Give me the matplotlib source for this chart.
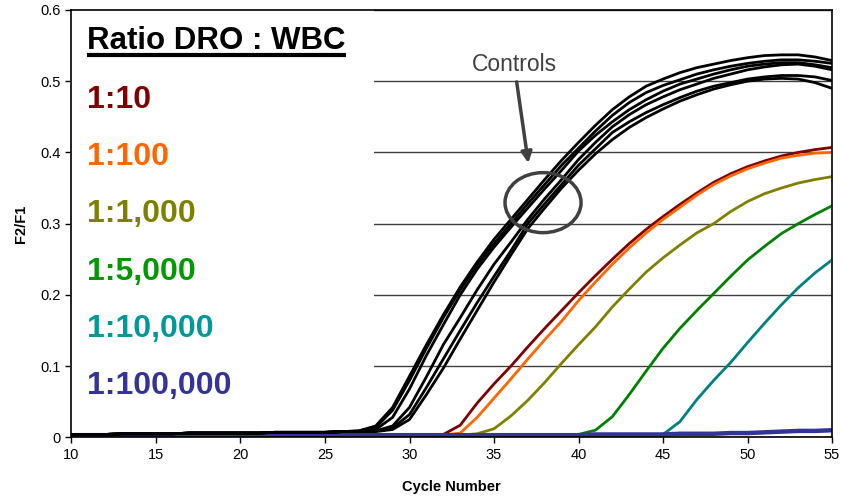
import matplotlib
matplotlib.use("Agg")
import matplotlib.pyplot as plt
import numpy as np
from matplotlib.patches import Ellipse, Rectangle

plt.rcParams["font.family"] = ["Liberation Sans", "DejaVu Sans"]

# F2/F1 por ciclo, ciclos 10..55
ciclos = np.arange(10, 56)

# controles: línea base común (ciclos 10-26) + cola de cada réplica (27-55)
ctrl_base = [0.004, 0.004, 0.004, 0.005, 0.005, 0.005, 0.005, 0.006, 0.006,
             0.006, 0.006, 0.006, 0.007, 0.007, 0.007, 0.007, 0.008]
ctrl_a = [0.009, 0.016, 0.042, 0.086, 0.130, 0.172, 0.211, 0.246, 0.278, 0.306,
          0.334, 0.362, 0.389, 0.414, 0.438, 0.460, 0.478, 0.493, 0.503, 0.512,
          0.519, 0.524, 0.529, 0.533, 0.536, 0.537, 0.537, 0.534, 0.529]
ctrl_b = [0.009, 0.014, 0.038, 0.080, 0.125, 0.168, 0.207, 0.242, 0.272, 0.300,
          0.328, 0.355, 0.382, 0.406, 0.430, 0.452, 0.470, 0.484, 0.494, 0.502,
          0.510, 0.516, 0.521, 0.525, 0.528, 0.530, 0.530, 0.528, 0.525]
ctrl_c = [0.008, 0.011, 0.028, 0.068, 0.115, 0.158, 0.200, 0.236, 0.267, 0.295,
          0.322, 0.349, 0.375, 0.402, 0.424, 0.443, 0.460, 0.474, 0.486, 0.496,
          0.503, 0.510, 0.516, 0.521, 0.524, 0.526, 0.526, 0.523, 0.519]
ctrl_d = [0.008, 0.009, 0.016, 0.042, 0.085, 0.130, 0.168, 0.207, 0.243, 0.274,
          0.306, 0.335, 0.362, 0.390, 0.414, 0.436, 0.453, 0.467, 0.478, 0.488,
          0.496, 0.504, 0.510, 0.516, 0.520, 0.523, 0.524, 0.521, 0.516]
ctrl_e = [0.008, 0.009, 0.013, 0.032, 0.070, 0.110, 0.150, 0.189, 0.226, 0.262,
          0.300, 0.328, 0.355, 0.382, 0.405, 0.428, 0.443, 0.456, 0.467, 0.477,
          0.486, 0.493, 0.498, 0.503, 0.506, 0.508, 0.508, 0.506, 0.501]
ctrl_f = [0.008, 0.008, 0.011, 0.025, 0.060, 0.097, 0.138, 0.178, 0.218, 0.256,
          0.293, 0.322, 0.350, 0.375, 0.398, 0.418, 0.435, 0.449, 0.461, 0.472,
          0.481, 0.489, 0.495, 0.500, 0.503, 0.504, 0.503, 0.498, 0.490]
controles = [ctrl_a, ctrl_b, ctrl_c, ctrl_d, ctrl_e, ctrl_f]

# diluciones DRO:WBC
r_10 = [0.003, 0.003, 0.003, 0.003, 0.003, 0.003, 0.003, 0.003, 0.003, 0.003,
        0.003, 0.003, 0.003, 0.003, 0.003, 0.003, 0.003, 0.003, 0.003, 0.003,
        0.003, 0.003, 0.004, 0.017, 0.048, 0.075, 0.100, 0.127, 0.153, 0.178,
        0.203, 0.227, 0.250, 0.272, 0.292, 0.310, 0.327, 0.343, 0.358, 0.370,
        0.380, 0.388, 0.395, 0.400, 0.404, 0.407]
r_100 = [0.003, 0.003, 0.003, 0.003, 0.003, 0.003, 0.003, 0.003, 0.003, 0.003,
         0.003, 0.003, 0.003, 0.003, 0.003, 0.003, 0.003, 0.003, 0.003, 0.003,
         0.003, 0.003, 0.003, 0.006, 0.028, 0.055, 0.082, 0.110, 0.137, 0.163,
         0.192, 0.218, 0.243, 0.266, 0.287, 0.306, 0.323, 0.340, 0.355, 0.367,
         0.377, 0.385, 0.392, 0.396, 0.399, 0.400]
r_1000 = [0.003, 0.003, 0.003, 0.003, 0.003, 0.003, 0.003, 0.003, 0.003, 0.003,
          0.003, 0.003, 0.003, 0.003, 0.003, 0.003, 0.003, 0.003, 0.003, 0.003,
          0.003, 0.003, 0.003, 0.003, 0.005, 0.012, 0.030, 0.052, 0.077, 0.104,
          0.130, 0.155, 0.183, 0.208, 0.232, 0.252, 0.270, 0.287, 0.300, 0.317,
          0.331, 0.342, 0.350, 0.357, 0.362, 0.366]
r_5000 = [0.003, 0.003, 0.003, 0.003, 0.003, 0.003, 0.003, 0.003, 0.003, 0.003,
          0.003, 0.003, 0.003, 0.003, 0.003, 0.003, 0.003, 0.003, 0.003, 0.003,
          0.003, 0.003, 0.003, 0.003, 0.003, 0.003, 0.003, 0.003, 0.003, 0.003,
          0.004, 0.010, 0.029, 0.060, 0.093, 0.125, 0.153, 0.178, 0.202, 0.226,
          0.249, 0.268, 0.286, 0.300, 0.313, 0.325]
r_10000 = [0.003, 0.003, 0.003, 0.003, 0.003, 0.003, 0.003, 0.003, 0.003, 0.003,
           0.003, 0.003, 0.003, 0.003, 0.003, 0.003, 0.003, 0.003, 0.003, 0.003,
           0.003, 0.003, 0.003, 0.003, 0.003, 0.003, 0.003, 0.003, 0.003, 0.003,
           0.003, 0.003, 0.003, 0.003, 0.003, 0.004, 0.022, 0.053, 0.080, 0.105,
           0.133, 0.160, 0.186, 0.210, 0.231, 0.249]
r_100000 = [0.003, 0.003, 0.003, 0.003, 0.003, 0.003, 0.003, 0.003, 0.003, 0.003,
            0.003, 0.003, 0.003, 0.003, 0.003, 0.003, 0.003, 0.003, 0.003, 0.003,
            0.003, 0.003, 0.003, 0.003, 0.003, 0.003, 0.003, 0.003, 0.003, 0.003,
            0.003, 0.004, 0.004, 0.004, 0.004, 0.004, 0.005, 0.005, 0.005, 0.006,
            0.006, 0.007, 0.008, 0.009, 0.009, 0.010]

etiquetas = ["1:10", "1:100", "1:1,000", "1:5,000", "1:10,000", "1:100,000"]
series = [r_10, r_100, r_1000, r_5000, r_10000, r_100000]
col_linea = ["#800000", "#FF6600", "#808000", "#008000", "#008080", "#333399"]
col_texto = ["#800000", "#FF6600", "#808000", "#009900", "#009999", "#333399"]
grosor = [2.0, 2.0, 2.0, 2.0, 2.0, 3.2]

fig = plt.figure(figsize=(8.43, 4.99), dpi=100)
ax = fig.add_axes([0.0848, 0.1236, 0.9022, 0.8564])

for y in controles:
    ax.plot(ciclos, ctrl_base + y, color="black", lw=2.0, zorder=3)
for y, c, w in zip(series, col_linea, grosor):
    ax.plot(ciclos, y, color=c, lw=w, zorder=2.5)

ax.set_xlim(10, 55)
ax.set_ylim(0, 0.6)
ax.set_xticks(range(10, 56, 5))
ax.set_yticks(np.arange(0, 0.61, 0.1))
ax.set_yticklabels(["0", "0.1", "0.2", "0.3", "0.4", "0.5", "0.6"])
ax.tick_params(labelsize=10.5, length=4, width=1, direction="out")
ax.yaxis.grid(True, color="0.25", lw=1)
ax.set_axisbelow(True)
for s in ax.spines.values():
    s.set_linewidth(1.2)
    s.set_color("black")

ax.set_xlabel("Cycle Number", fontsize=10.5, fontweight="bold", labelpad=13)
ax.set_ylabel("F2/F1", fontsize=10.5, fontweight="bold", labelpad=9)

# recuadro blanco de la leyenda (tapa la grilla)
ax.add_patch(Rectangle((0, 0.035), 0.398, 0.965, transform=ax.transAxes,
                       facecolor="white", edgecolor="none", zorder=1))

tit = ax.text(0.021, 0.908, "Ratio DRO : WBC", transform=ax.transAxes,
              fontsize=22.5, fontweight="bold", va="baseline", zorder=4)
fig.canvas.draw()
bb = tit.get_window_extent().transformed(ax.transAxes.inverted())
ax.plot([bb.x0, bb.x1], [0.895, 0.895], transform=ax.transAxes,
        color="black", lw=3, solid_capstyle="butt", zorder=4)

ys = [0.7706, 0.6368, 0.503, 0.369, 0.235, 0.101]
for t, c, yy in zip(etiquetas, col_texto, ys):
    ax.text(0.021, yy, t, transform=ax.transAxes, color=c, fontsize=23,
            fontweight="bold", va="baseline", zorder=4)

# anotación de los controles
gris = "#404040"
ax.text(36.18, 0.515, "Controls", color=gris, fontsize=16.5, ha="center",
        va="baseline", zorder=4)
ax.annotate("", xy=(37.03, 0.385), xytext=(36.34, 0.499),
            arrowprops=dict(arrowstyle="-|>", color=gris, lw=2.5,
                            mutation_scale=16, shrinkA=0, shrinkB=0),
            zorder=4)
ax.add_patch(Ellipse((37.9, 0.3295), 4.5, 0.0843, facecolor="none",
                     edgecolor=gris, lw=2.5, zorder=4))

fig.savefig("out.png", dpi=100)
